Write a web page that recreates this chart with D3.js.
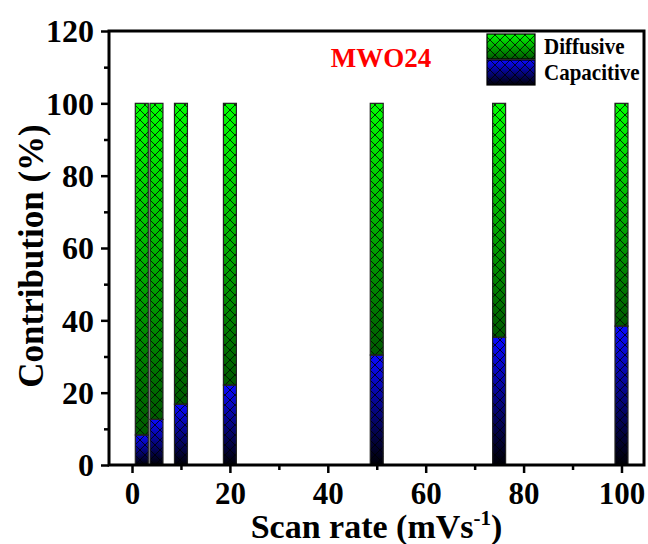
<!DOCTYPE html>
<html>
<head>
<meta charset="utf-8">
<script src="https://cdn.jsdelivr.net/npm/d3@7"></script>
<style>
  html, body { margin: 0; padding: 0; background: #fff; }
  svg { display: block; }
  text { font-family: "Liberation Serif", "Times New Roman", serif; font-weight: bold; }
</style>
</head>
<body>
<svg id="chart" width="648" height="544"></svg>
<script>
// Scan rates (mV/s) and the share of each charge-storage mechanism (%)
const scanRates = [2, 5, 10, 20, 50, 75, 100];
const capacitive = [8.3, 12.6, 16.8, 22.1, 30.4, 35.3, 38.4];
const diffusive = [91.7, 87.4, 83.2, 77.9, 69.6, 64.7, 61.6];
const seriesNames = ["Diffusive", "Capacitive"];
const xTicks = [0, 20, 40, 60, 80, 100];
const xMinorTicks = [10, 30, 50, 70, 90];
const yTicks = [0, 20, 40, 60, 80, 100, 120];
const yMinorTicks = [10, 30, 50, 70, 90, 110];
const sampleName = "MWO24";

const svg = d3.select("#chart");
const plotL = 109, plotR = 644, plotT = 31, plotB = 465;

const x = d3.scaleLinear().domain([-4.7, 104.6]).range([plotL, plotR]);
const y = d3.scaleLinear().domain([0, 120]).range([plotB, plotT]);
const barW = 2.65; // bar width in scan-rate units

// Gradients and cross hatch
const defs = svg.append("defs");
function grad(id, c0, c1) {
  const g = defs.append("linearGradient").attr("id", id)
    .attr("x1", 0).attr("y1", 0).attr("x2", 0).attr("y2", 1);
  g.append("stop").attr("offset", "0%").attr("stop-color", c0);
  g.append("stop").attr("offset", "100%").attr("stop-color", c1);
}
grad("gDiff", "#00ff00", "#005a00");
grad("gCap", "#0a0aff", "#000005");
const P = 10;
const hp = defs.append("pattern").attr("id", "hatch")
  .attr("patternUnits", "userSpaceOnUse").attr("width", P).attr("height", P);
hp.append("path")
  .attr("d", `M0,0L${P},${P}M${P},0L0,${P}M-1,${P - 1}L1,${P + 1}M${P - 1},-1L${P + 1},1M-1,1L1,-1M${P - 1},${P + 1}L${P + 1},${P - 1}`)
  .attr("stroke", "#000").attr("stroke-width", 0.8).attr("fill", "none");

// Stacked bars
const rows = scanRates.map((r, i) => ({ r, cap: capacitive[i], diff: diffusive[i] }));
const segs = [];
rows.forEach(d => {
  segs.push({ r: d.r, y0: 0, y1: d.cap, fill: "url(#gCap)" });
  segs.push({ r: d.r, y0: d.cap, y1: d.cap + d.diff, fill: "url(#gDiff)" });
});
const bars = svg.append("g");
bars.selectAll("rect.fill").data(segs).join("rect")
  .attr("x", d => x(d.r - barW / 2))
  .attr("width", d => x(d.r + barW / 2) - x(d.r - barW / 2))
  .attr("y", d => y(d.y1))
  .attr("height", d => y(d.y0) - y(d.y1))
  .attr("fill", d => d.fill);
bars.selectAll("rect.hatch").data(segs).join("rect")
  .attr("x", d => x(d.r - barW / 2))
  .attr("width", d => x(d.r + barW / 2) - x(d.r - barW / 2))
  .attr("y", d => y(d.y1))
  .attr("height", d => y(d.y0) - y(d.y1))
  .attr("fill", "url(#hatch)")
  .attr("stroke", "#222").attr("stroke-width", 1.2);

// Axes
const axisStyle = g => {
  g.select(".domain").remove();
  g.selectAll("line").attr("stroke", "#000").attr("stroke-width", 2.5);
  g.selectAll("text").attr("fill", "#000").style("font-size", "31px")
    .style("font-family", "'Liberation Serif', 'Times New Roman', serif").style("font-weight", "bold");
};
svg.append("g").attr("transform", `translate(0,${plotB})`)
  .call(d3.axisBottom(x).tickValues(xMinorTicks).tickSize(5).tickFormat(""))
  .call(axisStyle);
svg.append("g").attr("transform", `translate(0,${plotB})`)
  .call(d3.axisBottom(x).tickValues(xTicks).tickSize(8).tickPadding(6).tickFormat(d3.format("d")))
  .call(axisStyle)
  .selectAll("text").attr("dy", "0.8em");
svg.append("g").attr("transform", `translate(${plotL},0)`)
  .call(d3.axisLeft(y).tickValues(yMinorTicks).tickSize(5).tickFormat(""))
  .call(axisStyle);
svg.append("g").attr("transform", `translate(${plotL},0)`)
  .call(d3.axisLeft(y).tickValues(yTicks).tickSize(8).tickPadding(7).tickFormat(d3.format("d")))
  .call(axisStyle)
  .selectAll("text").style("font-size", "32px").attr("dy", "0.34em");

// Frame
svg.append("rect").attr("x", plotL).attr("y", plotT)
  .attr("width", plotR - plotL).attr("height", plotB - plotT)
  .attr("fill", "none").attr("stroke", "#000").attr("stroke-width", 3);

// Axis titles
const xt = svg.append("text").attr("x", (plotL + plotR) / 2).attr("y", 538)
  .attr("text-anchor", "middle").style("font-size", "34px");
xt.append("tspan").text("Scan rate (mVs");
xt.append("tspan").attr("dy", -13).style("font-size", "21px").text("-1");
xt.append("tspan").attr("dy", 13).text(")");

svg.append("text").attr("transform", "translate(43,256) rotate(-90)")
  .attr("text-anchor", "middle").style("font-size", "35px")
  .text("Contribution (%)");

// Sample label
svg.append("text").attr("x", 381).attr("y", 67).attr("text-anchor", "middle")
  .attr("fill", "#ff0000").style("font-size", "27px").text(sampleName);

// Legend
const legend = svg.append("g");
const legFills = ["url(#gDiff)", "url(#gCap)"];
seriesNames.forEach((name, i) => {
  const y0 = 34 + i * 26;
  legend.append("rect").attr("x", 487).attr("y", y0).attr("width", 48).attr("height", 25)
    .attr("fill", legFills[i]);
  legend.append("rect").attr("x", 487).attr("y", y0).attr("width", 48).attr("height", 25)
    .attr("fill", "url(#hatch)").attr("stroke", "#000").attr("stroke-width", 1.2);
  legend.append("text").attr("transform", `translate(544,${y0 + 20}) scale(1,1.12)`)
    .style("font-size", "21px").text(name);
});
</script>
</body>
</html>
